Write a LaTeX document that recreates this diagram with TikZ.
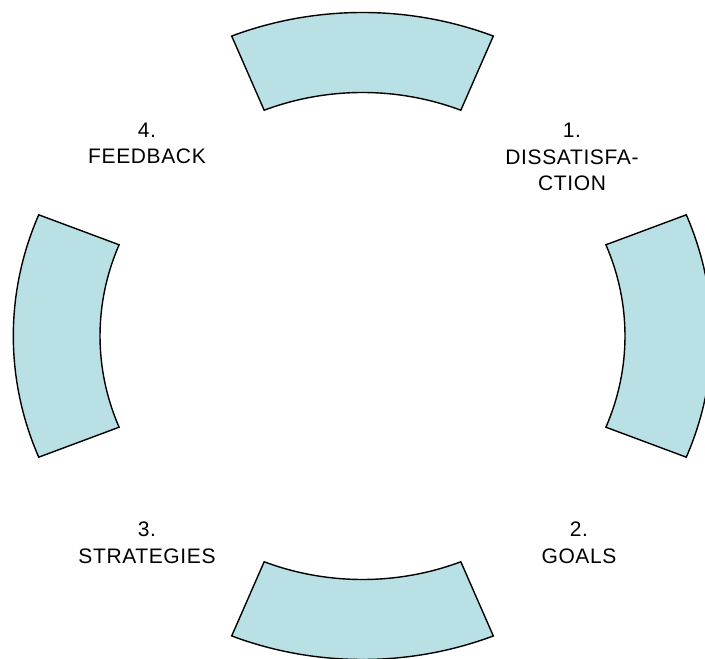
\documentclass[tikz,border=0pt]{standalone}
\usepackage{fontspec}
\setmainfont{Liberation Sans}
\usepackage{xcolor}
\definecolor{ringfill}{RGB}{185,224,228}

\begin{document}
\begin{tikzpicture}[x=1pt,y=1pt,
  seg/.style={draw=black,line width=1.4pt,fill=ringfill},
  lab/.style={align=center,inner sep=0pt,font=\fontsize{21}{26.5}\selectfont\addfontfeature{LetterSpace=3}}]
  \useasboundingbox(0,0)rectangle(705,659);
  \clip(0,0)rectangle(705,659);
  \def\cx{362.5}\def\cy{323}
  \def\rox{349.2}\def\roy{323.5}\def\rix{262.5}\def\riy{243.5}
  % four ring pieces
  \foreach \a in {90,0,-90,180}
    \draw[seg,shift={(\cx,\cy)}]({\rox*cos(\a-22)},{\roy*sin(\a-22)})
      arc[start angle=\a-22,end angle=\a+22,x radius=\rox,y radius=\roy]
      --({\rix*cos(\a+22)},{\riy*sin(\a+22)})
      arc[start angle=\a+22,end angle=\a-22,x radius=\rix,y radius=\riy]--cycle;
  \node[lab](feedback)at(147,515.5){4.\\FEEDBACK};
  \node[lab](dissat)at(572,502){1.\\DISSATISFA-\\CTION};
  \node[lab](strat)at(147,116){3.\\STRATEGIES};
  \node[lab](goals)at(579,116){2.\\GOALS};
\end{tikzpicture}
\end{document}
